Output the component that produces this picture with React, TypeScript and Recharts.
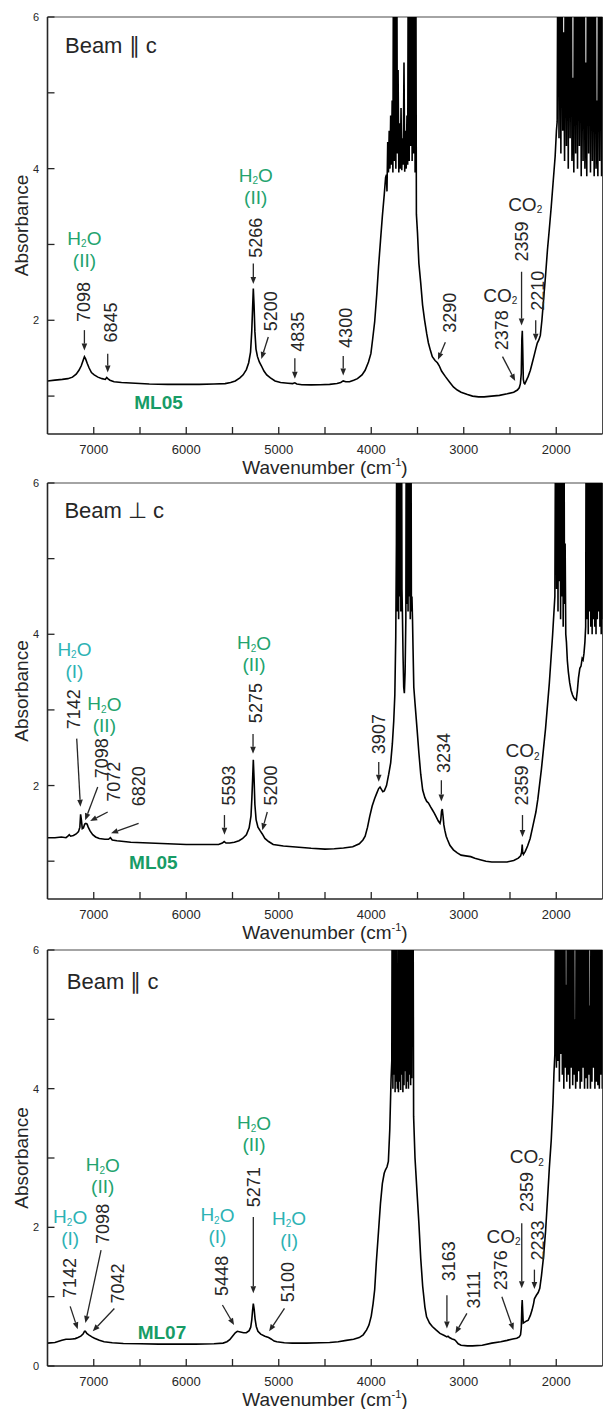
import React from 'react';
import { ComposedChart, Line, Scatter, XAxis, YAxis, ReferenceLine } from 'recharts';

const FONT = "'Liberation Sans', Arial, Helvetica, sans-serif";
const INK = '#262626';
const FRAME = '#4a4a4a';
const GREEN = '#22a36e';
const TEAL = '#2cb2b4';
const SAMPLE_GREEN = '#179c66';

type P = [number, number];

// ---- axes ----
const xDomain = [1500, 7500];
const xTicks = [2000, 2500, 3000, 3500, 4000, 4500, 5000, 5500, 6000, 6500, 7000];
const xLabelStep = 1000;
const yDomainP12 = [0.5, 6];
const yDomainP3 = [0, 6];
const yTicksP12 = [1, 2, 3, 4, 5, 6];
const yTicksP3 = [0, 1, 2, 3, 4, 5, 6];
const yLabelStep = 2;

// ---- spectra: [wavenumber, absorbance] ----
const spectrum1: P[] = [
  [7500,1.20],[7420,1.21],[7340,1.22],[7280,1.23],[7230,1.25],[7190,1.29],[7160,1.34],[7135,1.40],[7118,1.46],[7101,1.52],[7088,1.49],[7070,1.43],[7050,1.37],[7025,1.31],[6995,1.28],[6955,1.25],[6910,1.23],[6875,1.22],[6860,1.245],[6848,1.23],[6825,1.21],[6780,1.19],[6700,1.18],[6550,1.17],[6400,1.16],[6200,1.155],[6000,1.155],[5860,1.155],[5700,1.16],[5580,1.165],[5520,1.18],[5470,1.20],[5420,1.24],[5385,1.28],[5350,1.35],[5325,1.44],[5305,1.58],[5292,1.85],[5283,2.15],[5275,2.42],[5267,2.20],[5258,1.85],[5246,1.62],[5230,1.52],[5210,1.45],[5188,1.40],[5160,1.33],[5130,1.28],[5090,1.24],[5040,1.20],[4980,1.18],[4900,1.17],[4850,1.165],[4826,1.175],[4805,1.16],[4750,1.15],[4650,1.148],[4550,1.15],[4450,1.155],[4370,1.165],[4330,1.18],[4303,1.20],[4275,1.19],[4235,1.19],[4190,1.21],[4149,1.23],[4100,1.28],[4066,1.34],[4030,1.45],[4004,1.56],[3985,1.75],[3963,1.98],[3940,2.35],[3921,2.71],[3900,3.05],[3880,3.37],[3860,3.65],[3845,3.88],[3836,3.92],[3830,3.70],
  [3822,4.35],[3814,3.95],[3806,4.50],[3798,4.00],[3790,4.70],[3782,4.05],[3774,4.90],[3766,3.95],[3758,8],[3750,4.10],[3742,8],[3734,4.00],[3726,8],[3718,4.20],[3710,5.30],[3702,3.95],[3694,4.60],[3686,4.00],[3678,4.80],[3670,3.98],[3662,4.40],[3654,4.05],[3646,5.40],[3638,3.96],[3630,4.50],[3622,4.00],[3614,4.70],[3606,4.05],[3598,8],[3590,4.10],[3582,8],[3574,4.30],[3566,8],[3558,4.10],[3550,8],[3542,4.20],[3534,8],[3526,3.95],[3520,8],
  [3512,3.40],[3500,3.15],[3485,2.75],[3465,2.49],[3445,2.20],[3423,2.00],[3400,1.82],[3382,1.70],[3360,1.60],[3340,1.52],[3310,1.47],[3285,1.44],[3265,1.40],[3240,1.33],[3200,1.26],[3150,1.18],[3112,1.12],[3070,1.08],[3029,1.05],[2960,1.02],[2905,1.00],[2840,0.99],[2780,0.99],[2700,1.00],[2614,1.01],[2530,1.03],[2460,1.05],[2420,1.08],[2400,1.11],[2388,1.16],[2378,1.30],[2372,1.75],[2367,1.86],[2362,1.60],[2356,1.22],[2348,1.17],[2340,1.16],[2325,1.20],[2303,1.26],[2280,1.34],[2261,1.43],[2240,1.53],[2222,1.62],[2205,1.70],[2188,1.74],[2172,1.80],[2155,2.00],[2137,2.27],[2115,2.60],[2095,2.93],[2075,3.20],[2054,3.50],[2035,3.80],[2012,4.16],[1998,4.50],
  [1990,4.62],[1980,8],[1970,4.40],[1960,8],[1950,4.20],[1940,8],[1930,4.50],[1920,5.80],[1910,4.10],[1900,8],[1890,4.30],[1880,8],[1870,4.00],[1860,8],[1850,4.40],[1840,8],[1830,4.10],[1820,5.20],[1810,3.95],[1800,8],[1790,4.20],[1780,8],[1770,4.00],[1760,8],[1750,4.30],[1740,8],[1730,3.90],[1720,8],[1710,4.10],[1700,8],[1690,4.00],[1680,5.40],[1670,3.90],[1660,8],[1650,4.20],[1640,8],[1630,3.95],[1620,8],[1610,4.10],[1600,8],[1590,3.90],[1580,8],[1570,4.00],[1560,4.90],[1550,3.90],[1540,8],[1530,4.10],[1520,8],[1510,3.90],[1500,8],
];

const spectrum2: P[] = [
  [7500,1.31],[7420,1.31],[7350,1.32],[7300,1.31],[7280,1.33],[7265,1.35],[7250,1.33],[7220,1.34],[7190,1.36],[7165,1.39],[7150,1.45],[7142,1.62],[7134,1.55],[7124,1.43],[7112,1.44],[7098,1.49],[7085,1.50],[7072,1.49],[7060,1.45],[7040,1.40],[7011,1.35],[6980,1.32],[6940,1.30],[6880,1.29],[6840,1.29],[6820,1.31],[6800,1.28],[6750,1.27],[6600,1.25],[6400,1.24],[6200,1.23],[6000,1.22],[5800,1.22],[5650,1.22],[5610,1.24],[5590,1.26],[5570,1.24],[5530,1.24],[5480,1.25],[5430,1.27],[5390,1.30],[5350,1.35],[5320,1.44],[5300,1.60],[5290,1.85],[5282,2.10],[5275,2.34],[5267,2.10],[5258,1.75],[5245,1.55],[5225,1.45],[5200,1.40],[5178,1.36],[5150,1.30],[5110,1.26],[5060,1.22],[4950,1.20],[4850,1.19],[4782,1.185],[4650,1.17],[4500,1.16],[4400,1.165],[4300,1.175],[4200,1.19],[4129,1.23],[4090,1.28],[4066,1.33],[4040,1.45],[4017,1.59],[3990,1.73],[3963,1.83],[3940,1.90],[3920,1.96],[3905,1.98],[3890,1.95],[3875,1.92],[3859,1.93],[3835,2.00],[3811,2.15],[3790,2.30],[3772,2.55],[3757,2.85],[3745,3.20],[3735,3.97],
  [3728,5.20],[3722,8],[3716,4.30],[3710,8],[3704,4.20],[3698,8],[3692,4.50],[3686,8],[3680,4.30],[3674,8],[3668,4.60],[3662,4.20],[3656,3.70],[3649,3.30],[3642,3.22],[3634,3.50],[3626,4.20],[3620,8],[3614,4.40],[3608,8],[3602,4.30],[3596,8],[3590,4.50],[3584,8],[3578,4.20],[3572,8],[3566,4.30],[3560,4.50],[3554,4.20],[3548,3.80],[3540,3.30],[3527,3.09],
  [3505,2.75],[3485,2.43],[3465,2.15],[3444,1.94],[3420,1.84],[3400,1.79],[3382,1.77],[3360,1.72],[3340,1.68],[3320,1.64],[3299,1.59],[3275,1.53],[3257,1.50],[3248,1.55],[3240,1.66],[3232,1.69],[3224,1.60],[3215,1.48],[3205,1.41],[3190,1.33],[3174,1.28],[3150,1.21],[3112,1.15],[3070,1.11],[3029,1.08],[2980,1.07],[2925,1.06],[2880,1.04],[2822,1.02],[2760,1.00],[2697,0.99],[2600,0.99],[2531,0.99],[2460,1.01],[2410,1.04],[2385,1.07],[2374,1.12],[2368,1.22],[2363,1.12],[2355,1.09],[2335,1.13],[2310,1.20],[2282,1.30],[2250,1.48],[2220,1.65],[2199,1.82],[2160,2.22],[2116,2.75],[2075,3.35],[2040,3.98],[2015,4.50],[2004,8],
  [1996,4.60],[1988,8],[1981,4.30],[1974,8],[1967,4.70],[1960,8],[1953,4.20],[1946,8],[1939,4.50],[1932,8],[1925,4.10],[1918,8],[1911,4.40],[1904,5.20],[1897,4.00],[1890,3.90],[1880,3.65],[1869,3.50],[1855,3.36],[1840,3.26],[1825,3.20],[1810,3.16],[1795,3.14],[1784,3.13],[1772,3.25],[1760,3.42],[1745,3.55],[1732,3.58],[1720,3.68],[1710,3.66],[1700,3.75],[1690,3.90],[1682,4.10],[1675,8],[1668,4.20],[1661,8],[1654,4.00],[1647,8],[1640,4.30],[1633,8],[1626,4.10],[1619,8],[1612,4.00],[1605,8],[1598,4.20],[1591,8],[1584,4.10],[1577,8],[1570,4.00],[1563,8],[1556,4.20],[1549,8],[1542,4.30],[1535,8],[1528,4.10],[1521,8],[1514,4.00],[1507,8],[1500,4.20],
];

const spectrum3: P[] = [
  [7500,0.33],[7420,0.34],[7344,0.37],[7300,0.385],[7260,0.385],[7230,0.39],[7200,0.395],[7170,0.41],[7140,0.43],[7116,0.46],[7100,0.50],[7090,0.50],[7075,0.47],[7054,0.45],[7020,0.42],[6992,0.40],[6940,0.37],[6888,0.35],[6800,0.335],[6680,0.325],[6500,0.32],[6300,0.315],[6141,0.315],[5900,0.315],[5700,0.32],[5602,0.33],[5560,0.35],[5530,0.38],[5500,0.43],[5470,0.48],[5448,0.50],[5415,0.49],[5380,0.48],[5350,0.48],[5320,0.51],[5303,0.56],[5292,0.66],[5283,0.80],[5275,0.90],[5266,0.82],[5256,0.68],[5243,0.57],[5225,0.50],[5195,0.46],[5150,0.43],[5110,0.41],[5083,0.39],[5050,0.36],[5021,0.35],[4940,0.335],[4855,0.33],[4700,0.33],[4550,0.335],[4450,0.34],[4357,0.35],[4270,0.37],[4191,0.385],[4130,0.41],[4087,0.45],[4050,0.52],[4025,0.59],[4000,0.72],[3980,0.90],[3963,1.10],[3945,1.50],[3921,1.95],[3900,2.35],[3880,2.63],[3860,2.78],[3846,2.83],[3830,2.87],[3815,2.95],[3800,3.40],[3786,4.13],
  [3778,4.40],[3772,8],[3766,4.00],[3760,8],[3754,4.20],[3748,8],[3742,3.95],[3736,8],[3730,4.10],[3724,8],[3718,4.00],[3712,5.10],[3706,3.95],[3700,8],[3694,4.10],[3688,8],[3682,3.98],[3676,8],[3670,4.20],[3664,8],[3658,3.95],[3652,8],[3646,4.05],[3640,8],[3634,4.25],[3628,8],[3622,4.00],[3616,8],[3610,4.10],[3604,8],[3598,4.00],[3592,8],[3586,4.20],[3580,8],[3574,4.05],[3568,8],[3562,4.15],[3556,8],[3550,8],
  [3542,3.60],[3527,3.00],[3505,2.50],[3485,2.06],[3465,1.55],[3444,1.15],[3420,0.85],[3402,0.71],[3370,0.62],[3340,0.57],[3300,0.52],[3257,0.47],[3210,0.44],[3182,0.42],[3170,0.43],[3155,0.41],[3125,0.39],[3100,0.38],[3085,0.36],[3060,0.32],[3029,0.30],[2960,0.29],[2905,0.29],[2800,0.30],[2697,0.33],[2600,0.35],[2531,0.37],[2470,0.39],[2427,0.40],[2400,0.42],[2386,0.45],[2378,0.55],[2372,0.85],[2368,0.95],[2363,0.80],[2357,0.62],[2345,0.63],[2320,0.65],[2303,0.66],[2280,0.73],[2261,0.81],[2245,0.90],[2236,0.97],[2215,1.02],[2195,1.06],[2178,1.12],[2160,1.30],[2137,1.58],[2115,1.95],[2095,2.39],[2075,2.85],[2054,3.26],[2035,3.80],[2025,4.22],[2015,4.50],[2006,8],
  [1998,4.30],[1990,8],[1982,4.40],[1974,8],[1966,4.10],[1958,8],[1950,4.50],[1942,8],[1934,4.20],[1926,8],[1918,4.00],[1910,8],[1902,4.30],[1894,5.50],[1886,4.10],[1878,8],[1870,4.20],[1862,8],[1854,4.00],[1846,8],[1838,4.30],[1830,8],[1822,4.05],[1814,8],[1806,4.20],[1798,5.00],[1790,4.00],[1782,8],[1774,4.10],[1766,8],[1758,4.25],[1750,8],[1742,4.00],[1734,8],[1726,4.10],[1718,8],[1710,4.30],[1702,8],[1694,4.00],[1686,8],[1678,4.15],[1670,8],[1662,4.00],[1654,8],[1646,4.20],[1638,5.20],[1630,4.00],[1622,8],[1614,4.10],[1606,8],[1598,4.30],[1590,8],[1582,4.00],[1574,8],[1566,4.10],[1558,8],[1550,4.05],[1542,8],[1534,4.00],[1526,8],[1518,4.20],[1510,8],[1502,4.00],
];

// ---- annotations: peak numbers [w, a, text] ----
const numbers1: [number, number, string][] = [
  [7101,2.24,'7098'],[6813,1.97,'6845'],[5249,3.09,'5266'],[5087,2.12,'5200'],[4793,1.85,'4835'],
  [4278,1.90,'4300'],[3145,2.10,'3290'],[2588,1.87,'2378'],[2375,3.04,'2359'],[2193,2.39,'2210'],
];
const numbers2: [number, number, string][] = [
  [7209,3.01,'7142'],[6914,2.36,'7098'],[6777,2.05,'7072'],[6508,1.99,'6820'],[5537,2.00,'5593'],
  [5249,3.09,'5275'],[5087,2.00,'5200'],[3919,2.68,'3907'],[3217,2.43,'3234'],[2365,2.00,'2359'],
];
const numbers3: [number, number, string][] = [
  [7255,1.27,'7142'],[6903,2.05,'7098'],[6742,1.19,'7042'],[5616,1.30,'5448'],[5267,2.58,'5271'],
  [4905,1.21,'5100'],[3163,1.51,'3163'],[2894,1.10,'3111'],[2595,1.38,'2376'],[2319,2.51,'2359'],[2193,1.81,'2233'],
];

// ---- arrows: [tail w, tail a, head w, head a] ----
const arrows1: number[][] = [
  [7101,1.87,7101,1.60],[6849,1.56,6849,1.31],[5275,2.75,5275,2.48],[5113,1.78,5188,1.49],[4826,1.50,4826,1.23],
  [4303,1.53,4303,1.27],[3199,1.71,3279,1.48],[2581,1.52,2444,1.20],[2375,2.64,2375,1.93],[2222,2.00,2222,1.73],
];
const arrows2: number[][] = [
  [7184,2.62,7144,1.72],[6957,1.98,7093,1.54],[6849,1.65,7039,1.53],[6515,1.50,6813,1.37],[5587,1.61,5587,1.35],
  [5278,2.68,5278,2.42],[5124,1.65,5178,1.41],[3919,2.31,3919,2.05],[3242,2.07,3242,1.79],[2365,1.61,2365,1.32],
];
const arrows3: number[][] = [
  [7255,0.86,7173,0.53],[6921,1.67,7090,0.62],[6777,0.83,7011,0.50],[5609,0.88,5483,0.59],[5275,2.15,5275,1.05],
  [4938,0.83,5104,0.50],[3182,1.02,3182,0.54],[2966,0.76,3091,0.47],[2588,1.00,2462,0.52],[2373,2.06,2373,1.12],[2236,1.39,2236,1.11],
];

// ---- water labels [w, a, type] ----
const waters1: [number, number, string][] = [[7101,3.08,'II'],[5249,3.91,'II']];
const waters2: [number, number, string][] = [[7209,3.80,'I'],[6885,3.08,'II'],[5267,3.89,'II']];
const waters3: [number, number, string][] = [[7255,2.15,'I'],[6903,2.90,'II'],[5663,2.18,'I'],[5267,3.51,'II'],[4888,2.13,'I']];

// ---- CO2 labels [w, a] ----
const co2s1: P[] = [[2606,2.33],[2336,3.53]];
const co2s2: P[] = [[2365,2.46]];
const co2s3: P[] = [[2570,1.87],[2319,3.02]];

// ---- panel titles & samples ----
const beams: [number, number, string][] = [[7311,5.63,'Beam ∥ c'],[7317,5.64,'Beam ⊥ c'],[7292,5.54,'Beam ∥ c']];
const samples: [number, number, string][] = [[6299,0.92,'ML05'],[6355,0.98,'ML05'],[6263,0.48,'ML07']];

// ---------------- renderers ----------------
const XTick = (props: any) => {
  const { x, y, payload } = props;
  const v = payload.value;
  return (
    <g>
      <line x1={x} x2={x} y1={y} y2={y - 7} stroke={INK} strokeWidth={1.3} />
      {v % xLabelStep === 0 && (
        <text x={x} y={y + 20} textAnchor="middle" fontSize={13} fill={INK} fontFamily={FONT}>{v}</text>
      )}
    </g>
  );
};

const YTick = (props: any) => {
  const { x, y, payload } = props;
  const v = payload.value;
  return (
    <g>
      <line x1={x} x2={x + 7} y1={y} y2={y} stroke={INK} strokeWidth={1.3} />
      {v % yLabelStep === 0 && (
        <text x={x - 8.5} y={y} textAnchor="end" dominantBaseline="central" fontSize={11} fill={INK} fontFamily={FONT}>{v}</text>
      )}
    </g>
  );
};

const renderXTitle = (props: any) => {
  const vb = props.viewBox || {};
  const cx = (vb.x ?? 47.5) + (vb.width ?? 556) / 2;
  const y = (vb.y ?? 0) + 40;
  return (
    <text x={cx} y={y} textAnchor="middle" fontSize={19} fill={INK} fontFamily={FONT}>
      Wavenumber (cm<tspan fontSize={11} dy={-8}>-1</tspan><tspan dy={8}>)</tspan>
    </text>
  );
};

const renderYTitle = (props: any) => {
  const vb = props.viewBox || {};
  const cy = (vb.y ?? 0) + (vb.height ?? 400) / 2;
  const x = (vb.x ?? 0) + 21;
  return (
    <text x={x} y={cy} transform={`rotate(-90 ${x} ${cy})`} textAnchor="middle" dominantBaseline="central" fontSize={19} fill={INK} fontFamily={FONT}>
      Absorbance
    </text>
  );
};

const renderArrow = (p: any) => {
  const { x1, y1, x2, y2 } = p;
  if ([x1, y1, x2, y2].some((v) => v == null || Number.isNaN(v))) return <g />;
  const dx = x2 - x1, dy = y2 - y1;
  const len = Math.hypot(dx, dy) || 1;
  const ux = dx / len, uy = dy / len;
  const L = 7, W = 2.8;
  const bx = x2 - ux * L, by = y2 - uy * L;
  return (
    <g>
      <line x1={x1} y1={y1} x2={bx} y2={by} stroke={INK} strokeWidth={1.3} />
      <polygon points={`${x2},${y2} ${bx - uy * W},${by + ux * W} ${bx + uy * W},${by - ux * W}`} fill={INK} />
    </g>
  );
};

const renderNote = (p: any) => {
  const { cx, cy, payload } = p;
  if (cx == null || cy == null) return <g />;
  switch (payload.kind) {
    case 'num':
      return (
        <text x={cx} y={cy} transform={`rotate(-90 ${cx} ${cy})`} textAnchor="middle" dominantBaseline="central" fontSize={18} fill={INK} fontFamily={FONT}>
          {payload.t}
        </text>
      );
    case 'water': {
      const col = payload.t === 'I' ? TEAL : GREEN;
      return (
        <g fill={col} fontFamily={FONT} fontSize={19}>
          <text x={cx} y={cy} textAnchor="middle" dominantBaseline="central">
            H<tspan fontSize={10} dy={5}>2</tspan><tspan dy={-5}>O</tspan>
          </text>
          <text x={cx} y={cy + 22} textAnchor="middle" dominantBaseline="central">({payload.t})</text>
        </g>
      );
    }
    case 'co2':
      return (
        <text x={cx} y={cy} textAnchor="middle" dominantBaseline="central" fontSize={19} fill={INK} fontFamily={FONT}>
          CO<tspan fontSize={10} dy={5}>2</tspan>
        </text>
      );
    case 'beam':
      return (
        <text x={cx} y={cy} textAnchor="start" dominantBaseline="central" fontSize={22} fill={INK} fontFamily={FONT}>
          {payload.t}
        </text>
      );
    case 'sample':
      return (
        <text x={cx} y={cy} textAnchor="middle" dominantBaseline="central" fontSize={19} fontWeight="bold" fill={SAMPLE_GREEN} fontFamily={FONT}>
          {payload.t}
        </text>
      );
    default:
      return <g />;
  }
};

type PanelProps = {
  top: number;
  height: number;
  axisH: number;
  yDomain: number[];
  yTicks: number[];
  spectrum: P[];
  numbers: [number, number, string][];
  arrows: number[][];
  waters: [number, number, string][];
  co2s: P[];
  beam: [number, number, string];
  sample: [number, number, string];
};

function Panel(props: PanelProps) {
  const { top, height, axisH, yDomain, yTicks, spectrum, numbers, arrows, waters, co2s, beam, sample } = props;
  const lineData = spectrum.map(([w, a]) => ({ w, a }));
  const notes = [
    ...numbers.map(([w, a, t]) => ({ w, a, t, kind: 'num' })),
    ...waters.map(([w, a, t]) => ({ w, a, t, kind: 'water' })),
    ...co2s.map(([w, a]) => ({ w, a, t: '', kind: 'co2' })),
    { w: beam[0], a: beam[1], t: beam[2], kind: 'beam' },
    { w: sample[0], a: sample[1], t: sample[2], kind: 'sample' },
  ];
  return (
    <div style={{ position: 'absolute', left: 0, top, width: 620, height }}>
      <ComposedChart width={620} height={height} margin={{ top: 17, right: 17.5, bottom: 0, left: 0 }}>
        <XAxis
          dataKey="w"
          type="number"
          domain={xDomain}
          reversed
          allowDataOverflow
          ticks={xTicks}
          interval={0}
          tickLine={false}
          tickSize={0}
          tickMargin={0}
          tick={<XTick />}
          height={axisH}
          axisLine={{ stroke: INK, strokeWidth: 1.6 }}
          label={renderXTitle}
        />
        <YAxis
          type="number"
          domain={yDomain}
          allowDataOverflow
          ticks={yTicks}
          interval={0}
          tickLine={false}
          tickSize={0}
          tickMargin={0}
          tick={<YTick />}
          width={47.5}
          axisLine={{ stroke: INK, strokeWidth: 1.6 }}
          label={renderYTitle}
        />
        <ReferenceLine y={6} stroke={FRAME} strokeWidth={1.2} ifOverflow="visible" />
        <ReferenceLine x={1500} stroke={FRAME} strokeWidth={1} ifOverflow="visible" />
        <Line
          data={lineData}
          dataKey="a"
          type="linear"
          stroke="#000"
          strokeWidth={1.6}
          dot={false}
          activeDot={false}
          isAnimationActive={false}
        />
        {arrows.map((r, i) => (
          <ReferenceLine
            key={i}
            segment={[{ x: r[0], y: r[1] }, { x: r[2], y: r[3] }]}
            ifOverflow="visible"
            shape={renderArrow}
          />
        ))}
        <Scatter data={notes} dataKey="a" shape={renderNote} isAnimationActive={false} />
      </ComposedChart>
    </div>
  );
}

export default function App() {
  return (
    <div style={{ position: 'absolute', left: 0, top: 0, width: 603, height: 1409, overflow: 'hidden', background: '#fff' }}>
      <Panel top={0} height={480} axisH={46} yDomain={yDomainP12} yTicks={yTicksP12} spectrum={spectrum1}
        numbers={numbers1} arrows={arrows1} waters={waters1} co2s={co2s1} beam={beams[0]} sample={samples[0]} />
      <Panel top={466} height={479} axisH={46} yDomain={yDomainP12} yTicks={yTicksP12} spectrum={spectrum2}
        numbers={numbers2} arrows={arrows2} waters={waters2} co2s={co2s2} beam={beams[1]} sample={samples[1]} />
      <Panel top={933} height={476} axisH={43} yDomain={yDomainP3} yTicks={yTicksP3} spectrum={spectrum3}
        numbers={numbers3} arrows={arrows3} waters={waters3} co2s={co2s3} beam={beams[2]} sample={samples[2]} />
    </div>
  );
}
